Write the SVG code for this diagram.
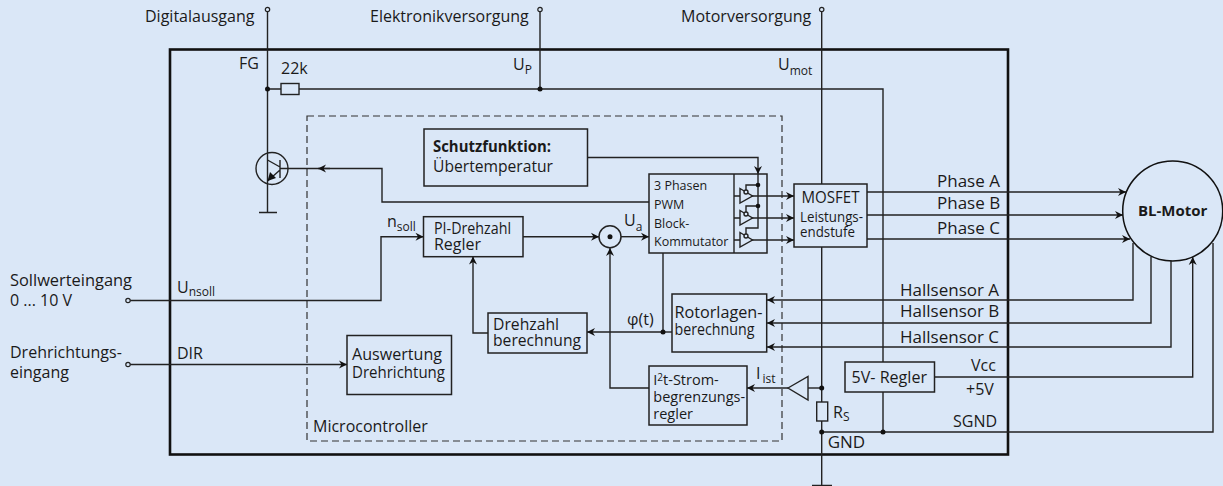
<svg xmlns="http://www.w3.org/2000/svg" width="1223" height="486" viewBox="0 0 1223 486">
<style>
text{font-family:"Open Sans","Noto Sans","Liberation Sans",sans-serif;font-size:16px;fill:#1a1a1a}
.m{font-size:14.5px}
.t{font-size:15.5px}
.l{font-size:17px}
.s{font-size:12.5px}
.sub{font-size:12px}
.b{font-weight:700}
.box{fill:none;stroke:#222;stroke-width:1.5}
.w{fill:none;stroke:#222;stroke-width:1.4}
.f{fill:#dae7f7;stroke:#222;stroke-width:1.4}
.d{fill:#111}
</style>
<defs>
<marker id="a" markerUnits="userSpaceOnUse" markerWidth="10" markerHeight="10" refX="9" refY="5" orient="auto"><path d="M1 1L9 5L1 9L3.5 5Z" fill="#111"/></marker>
</defs>
<rect width="1223" height="486" fill="#dae7f7"/>
<rect id="frame" x="170" y="49.500" width="838" height="405" fill="none" stroke="#111" stroke-width="2.600"/>
<rect id="microcontroller" x="307" y="116" width="475" height="325" fill="none" stroke="#333" stroke-width="1.200" stroke-dasharray="7 4"/>
<g id="connectors">
<path class="w" d="M267.500 12V212.500M259 212.500H277"/>
<path class="w" d="M267.500 89H281M299 89H883V362M883 392V432"/>
<path class="w" d="M540 12V89"/>
<path class="w" d="M821.700 12V184M821.700 247V402M821.700 421V486M812 485.500H832"/>
<path class="w" d="M649 202H382V168.500H280"/>
<path class="w" marker-end="url(#a)" d="M330 168.500H318"/>
<path class="w" marker-end="url(#a)" d="M130 300.500H381V236.700H423.500"/>
<path class="w" marker-end="url(#a)" d="M130 364.500H347"/>
<path class="w" marker-end="url(#a)" d="M523 236.700H599"/>
<path class="w" marker-end="url(#a)" d="M621 236.700H649"/>
<path class="w" marker-end="url(#a)" d="M649 388H610V248"/>
<path class="w" marker-end="url(#a)" d="M663 253V332H587"/>
<path class="w" d="M663 332H672"/>
<path class="w" marker-end="url(#a)" d="M488 333H473V256.500"/>
<path class="w" marker-end="url(#a)" d="M587.500 157.500H758V174"/>
<path class="w" marker-end="url(#a)" d="M752 196H794"/>
<path class="w" marker-end="url(#a)" d="M752 218H794"/>
<path class="w" marker-end="url(#a)" d="M752 240H794"/>
<path class="w" marker-end="url(#a)" d="M867 192H1126"/>
<path class="w" marker-end="url(#a)" d="M867 215H1123"/>
<path class="w" marker-end="url(#a)" d="M867 239H1130"/>
<path class="w" marker-end="url(#a)" d="M1133 243V300H767"/>
<path class="w" marker-end="url(#a)" d="M1151 257V323H767"/>
<path class="w" marker-end="url(#a)" d="M1171 261V347H767"/>
<path class="w" marker-end="url(#a)" d="M934.500 377H1192.700V257"/>
<path class="w" d="M821.700 432H1213V243"/>
<path class="w" marker-end="url(#a)" d="M788 388H747"/>
<path class="w" d="M808 388H822"/>
</g>
<g id="terminals" fill="#dae7f7" stroke="#222" stroke-width="1.200">
<circle cx="267.500" cy="9.500" r="2.200"/><circle cx="540" cy="9.500" r="2.200"/><circle cx="821.700" cy="9.500" r="2.200"/>
<circle cx="128" cy="300.500" r="2.200"/><circle cx="128" cy="364.500" r="2.200"/>
</g>
<g id="dots" class="d">
<circle cx="267.500" cy="89" r="2.500"/><circle cx="540" cy="89" r="2.500"/>
<circle cx="663" cy="332" r="2.500"/><circle cx="821.700" cy="388" r="2.500"/><circle cx="821.700" cy="432" r="2.500"/><circle cx="883" cy="432" r="2.500"/>
</g>
<g id="r22k"><rect class="f" x="281" y="83.500" width="18" height="11"/><text x="281" y="74">22k</text></g>
<g id="transistor">
<circle cx="272" cy="168.500" r="16" fill="none" stroke="#222" stroke-width="1.400"/>
<path class="w" d="M280 160V178M267.500 160L280 167M280 170L267.500 181"/>
<path d="M267.500 181L270 172L276 178Z" fill="#111"/>
</g>
<g id="schutz"><rect class="box" x="424" y="129" width="163.500" height="57"/><text class="b" x="433" y="152" textLength="118" lengthAdjust="spacingAndGlyphs">Schutzfunktion:</text><text x="433" y="172" textLength="120" lengthAdjust="spacingAndGlyphs">Übertemperatur</text></g>
<g id="pi"><rect class="box" x="423.500" y="216.700" width="99.500" height="40"/><text class="t" x="434" y="234" textLength="77" lengthAdjust="spacingAndGlyphs">PI-Drehzahl</text><text class="t" x="434" y="250" textLength="47" lengthAdjust="spacingAndGlyphs">Regler</text></g>
<g id="sum"><circle cx="610" cy="236.700" r="11" fill="none" stroke="#222" stroke-width="1.500"/><circle class="d" cx="610" cy="236.700" r="2.500"/></g>
<g id="kommutator">
<rect class="box" x="649" y="174" width="118" height="79"/>
<path class="w" d="M734 174V253"/>
<text class="s" x="654" y="190">3 Phasen</text><text class="s" x="654" y="209">PWM</text><text class="s" x="654" y="228">Block-</text><text class="s" x="654" y="246">Kommutator</text>
<path class="w" d="M734 196H740M734 218H740M734 240H740"/>
<path class="f" d="M740 188.500L752.500 196L740 203ZM740 210.500L752.500 218L740 225ZM740 232.500L752.500 240L740 247Z"/>
<circle class="f" cx="746" cy="192" r="2"/><circle class="f" cx="746" cy="214" r="2"/><circle class="f" cx="746" cy="236" r="2"/>
<path class="w" d="M746 190V185H758M746 212V206H758M746 234V228H758V174"/>
<circle class="d" cx="758" cy="185" r="2.300"/><circle class="d" cx="758" cy="206" r="2.300"/>
</g>
<g id="mosfet"><rect class="box" x="794" y="184" width="73" height="63"/><text x="801.500" y="202.500" textLength="58" lengthAdjust="spacingAndGlyphs" style="font-size:15.500px">MOSFET</text><text x="800" y="222" textLength="63" lengthAdjust="spacingAndGlyphs" style="font-size:14px">Leistungs-</text><text x="800" y="237" textLength="55" lengthAdjust="spacingAndGlyphs" style="font-size:14px">endstufe</text></g>
<g id="motor"><circle cx="1172.700" cy="211" r="50" fill="#dae7f7" stroke="#111" stroke-width="1.500"/><text class="b" x="1172.700" y="216" text-anchor="middle" style="font-size:15px">BL-Motor</text></g>
<g id="rotorlagen"><rect class="box" x="672" y="294" width="94.700" height="58"/><text class="t" x="674.500" y="318" textLength="88" lengthAdjust="spacingAndGlyphs">Rotorlagen-</text><text class="t" x="674.500" y="335" textLength="80" lengthAdjust="spacingAndGlyphs">berechnung</text></g>
<g id="drehzahl"><rect class="box" x="488" y="313" width="99" height="40"/><text class="t" x="493" y="330" textLength="66" lengthAdjust="spacingAndGlyphs">Drehzahl</text><text class="t" x="493" y="346" textLength="88" lengthAdjust="spacingAndGlyphs">berechnung</text></g>
<g id="auswertung"><rect class="box" x="347" y="335.500" width="104.500" height="59"/><text class="t" x="352" y="360" textLength="90" lengthAdjust="spacingAndGlyphs">Auswertung</text><text class="t" x="352" y="378" textLength="93" lengthAdjust="spacingAndGlyphs">Drehrichtung</text></g>
<g id="i2t"><rect class="box" x="649" y="366" width="98" height="59"/><text class="m" x="653.300" y="385">I<tspan dy="-4" style="font-size:10px">2</tspan><tspan dy="4">t-Strom-</tspan></text><text class="m" x="653.300" y="402">begrenzungs-</text><text class="m" x="653.300" y="419">regler</text></g>
<g id="amp"><path class="f" d="M788 388L808 376.500V400Z"/></g>
<g id="rs"><rect class="f" x="816.700" y="402" width="11" height="19"/><text x="833" y="418">R<tspan class="sub" dy="3">S</tspan></text></g>
<g id="regler"><rect class="box" x="845" y="362" width="89.500" height="30"/><text class="t" x="851.500" y="382.500" textLength="75.500" lengthAdjust="spacingAndGlyphs">5V- Regler</text></g>
<g id="labels">
<text x="145" y="22">Digitalausgang</text><text x="370" y="22">Elektronikversorgung</text><text x="681" y="22">Motorversorgung</text>
<text x="239" y="69">FG</text>
<text x="513" y="70">U<tspan class="sub" dy="4">P</tspan></text>
<text x="778" y="70">U<tspan class="sub" dy="5">mot</tspan></text>
<text x="387" y="227">n<tspan class="sub" dy="4">soll</tspan></text>
<text x="624" y="226">U<tspan class="sub" dy="5">a</tspan></text>
<text x="627" y="325">φ(t)</text>
<text x="756" y="379">I<tspan class="sub" dx="2" dy="4">ist</tspan></text>
<text x="177" y="293">U<tspan class="sub" dy="3">nsoll</tspan></text>
<text x="177" y="359">DIR</text>
<text x="10" y="286" textLength="122" lengthAdjust="spacingAndGlyphs">Sollwerteingang</text><text x="10" y="306">0 ... 10 V</text>
<text x="10" y="358">Drehrichtungs-</text><text x="10" y="378">eingang</text>
<text x="313" y="432">Microcontroller</text>
<text x="827.700" y="448" class="l">GND</text>
<text class="l" x="937" y="187">Phase A</text><text class="l" x="937" y="209">Phase B</text><text class="l" x="937" y="234">Phase C</text>
<text class="l" x="900" y="296">Hallsensor A</text><text class="l" x="900" y="317">Hallsensor B</text><text class="l" x="900" y="343">Hallsensor C</text>
<text x="971" y="371">Vcc</text><text x="966" y="395">+5V</text><text x="953" y="427">SGND</text>
</g>
</svg>
